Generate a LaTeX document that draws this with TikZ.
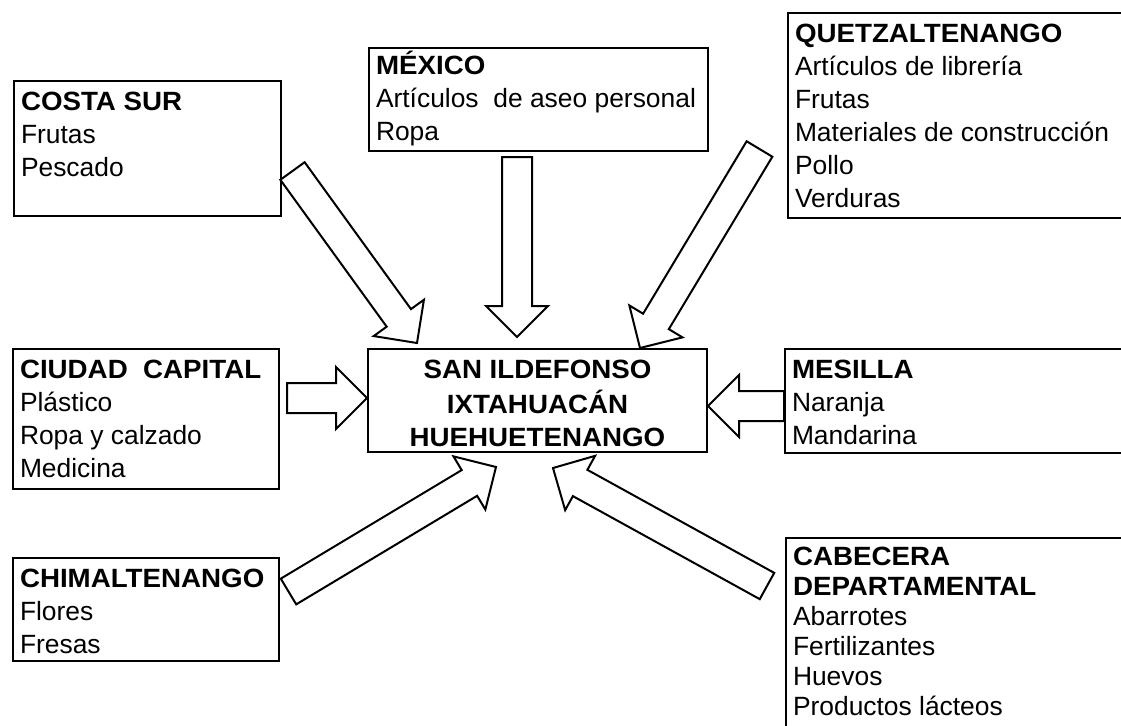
\documentclass[tikz,border=0pt]{standalone}
\usepackage{fontspec}
\setmainfont{Liberation Sans}[BoldFeatures={FakeStretch=1.05}]
\usepackage{tikz}
\usetikzlibrary{calc}
\newcommand{\lugar}[3]{\parbox[t][#2][t]{#1}{\raggedright\strut #3}}
\newcommand{\flecha}[2]{%
  \coordinate (base) at ($(#2)!15.5pt!(#1)$);
  \draw[flecha] ($(#1)!7.5pt!90:(#2)$) -- ($(base)!7.5pt!90:(#2)$)
    -- ($(base)!15.5pt!90:(#2)$) -- (#2) -- ($(base)!15.5pt!-90:(#2)$)
    -- ($(base)!7.5pt!-90:(#2)$) -- ($(#1)!7.5pt!-90:(#2)$) -- cycle;}

\begin{document}
\begin{tikzpicture}[x=0.5pt,y=-0.5pt]
  \tikzstyle{caja}=[draw, line width=1pt, anchor=north west,
    inner xsep=3.5pt, inner ysep=3pt, font=\fontsize{13.2}{16.5}\selectfont]
  \tikzstyle{flecha}=[draw, line width=1pt, fill=white, line join=miter]
  \useasboundingbox (0,0) rectangle (1121,725);

  \node[caja] (costa) at (13,80)
    {\lugar{126.5pt}{61.5pt}{\textbf{COSTA SUR}\\ Frutas\\ Pescado}};
  \node[caja, inner ysep=1.5pt] (mexico) at (368,47)
    {\lugar{162.5pt}{48.5pt}{\textbf{MÉXICO}\\ \mbox{Artículos\ \ de aseo personal}\\ Ropa}};
  \node[caja] (quetzal) at (787,12)
    {\lugar{162.5pt}{96.5pt}{\textbf{QUETZALTENANGO}\\ Artículos de librería\\ Frutas\\
      \mbox{Materiales de construcción}\\ Pollo\\ Verduras}};
  \node[caja] (capital) at (12,348)
    {\lugar{126pt}{64pt}{\textbf{CIUDAD\ \ CAPITAL}\\ Plástico\\ Ropa y calzado\\ Medicina}};
  \node[caja] (centro) at (367,348)
    {\parbox[t][45.5pt][t]{162.5pt}{\centering\bfseries\strut SAN ILDEFONSO\\ IXTAHUACÁN\\ HUEHUETENANGO}};
  \node[caja] (mesilla) at (784,348)
    {\lugar{164pt}{46pt}{\textbf{MESILLA}\\ Naranja\\ Mandarina}};
  \node[caja] (chimal) at (12,557)
    {\lugar{126pt}{45.5pt}{\textbf{CHIMALTENANGO}\\ Flores\\ Fresas}};
  \node[caja, font=\fontsize{13.2}{15}\selectfont] (cabecera) at (785,537)
    {\lugar{163.5pt}{91.5pt}{\textbf{CABECERA}\\ \textbf{DEPARTAMENTAL}\\ Abarrotes\\
      Fertilizantes\\ Huevos\\ Productos lácteos}};

  \coordinate (costa-cola) at (292.5,171);
  \coordinate (costa-punta) at (417,343);
  \coordinate (mexico-cola) at (517,157);
  \coordinate (mexico-punta) at (517,337);
  \coordinate (quetzal-cola) at (759.5,149);
  \coordinate (quetzal-punta) at (640,348);
  \coordinate (capital-cola) at (287,398);
  \coordinate (capital-punta) at (centro.west |- capital-cola);
  \coordinate (mesilla-cola) at (mesilla.west |- 0,406);
  \coordinate (mesilla-punta) at (centro.east |- 0,406);
  \coordinate (chimal-cola) at (288.5,591.5);
  \coordinate (chimal-punta) at (496,467);
  \coordinate (cabecera-cola) at (767,586);
  \coordinate (cabecera-punta) at (553,468);

  \flecha{costa-cola}{costa-punta}
  \flecha{mexico-cola}{mexico-punta}
  \flecha{quetzal-cola}{quetzal-punta}
  \flecha{capital-cola}{capital-punta}
  \flecha{mesilla-cola}{mesilla-punta}
  \flecha{chimal-cola}{chimal-punta}
  \flecha{cabecera-cola}{cabecera-punta}
\end{tikzpicture}
\end{document}
